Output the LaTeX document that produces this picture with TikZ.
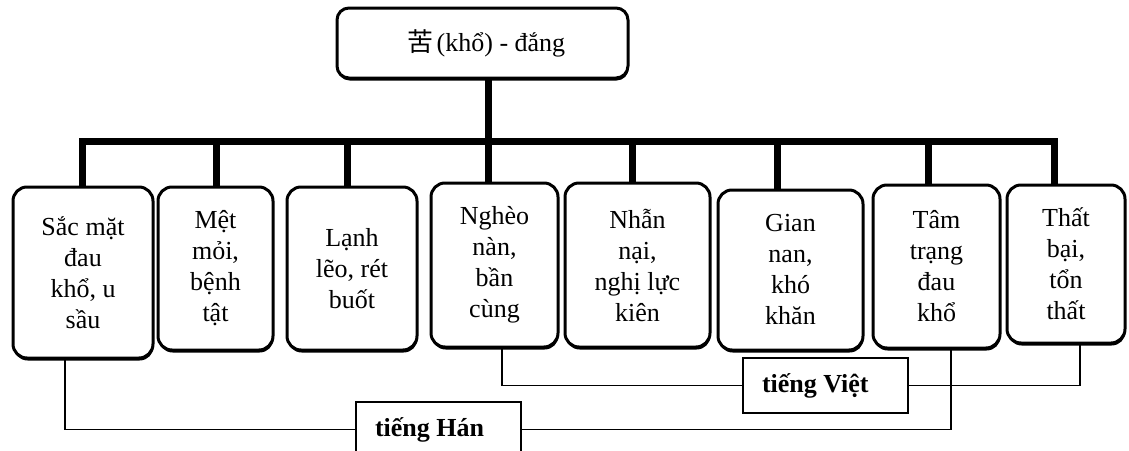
\documentclass[tikz,border=0pt]{standalone}
\usepackage{fontspec}
\setmainfont{Liberation Serif}
\newfontfamily\cjk{Noto Sans CJK SC}
\usetikzlibrary{calc,shadows,backgrounds}
\begin{document}
\begin{tikzpicture}[x=1pt,y=-1pt,
  box/.style={draw, line width=3pt, rounded corners=14pt, fill=white, align=center,
    inner sep=0pt, font=\fontsize{26}{31}\selectfont,
    drop shadow={shadow xshift=0.6pt, shadow yshift=-2.5pt, opacity=1, fill=black}},
  trunk/.style={line width=7pt, line join=miter},
  conn/.style={line width=1.5pt},
  lbox/.style={draw, line width=1.5pt, fill=white, font=\bfseries\fontsize{26}{30}\selectfont,
    minimum height=55pt, text width=127pt, inner xsep=19pt, inner ysep=0pt, align=flush left}]
\useasboundingbox (0,0) rectangle (1129,450);
\clip (0,0) rectangle (1129,450);

% boxes
\node[box, minimum width=291pt, minimum height=70pt, rounded corners=12pt] (top) at (482.5,43) {\hspace*{8pt}{\cjk 苦}\hspace{3pt}(khổ) - đắng};
\node[box, minimum width=140pt, minimum height=171pt] (b1) at (83,272.5) {Sắc mặt\\đau\\khổ, u\\sầu};
\node[box, minimum width=115pt, minimum height=163pt] (b2) at (215.5,268.5) {Mệt\\mỏi,\\bệnh\\tật};
\node[box, minimum width=130pt, minimum height=163pt] (b3) at (352,268.5) {Lạnh\\lẽo, rét\\buốt};
\node[box, minimum width=127pt, minimum height=164pt] (b4) at (494.5,265) {Nghèo\\nàn,\\bần\\cùng};
\node[box, minimum width=145pt, minimum height=164pt] (b5) at (637.5,265) {Nhẫn\\nại,\\nghị lực\\kiên};
\node[box, minimum width=145pt, minimum height=160pt] (b6) at (790.5,270) {Gian\\nan,\\khó\\khăn};
\node[box, minimum width=127pt, minimum height=163pt] (b7) at (936.5,266.5) {Tâm\\trạng\\đau\\khổ};
\node[box, minimum width=118pt, minimum height=158pt] (b8) at (1066,264) {Thất\\bại,\\tổn\\thất};

% tree connectors (behind the boxes)
\coordinate (bar) at (0,141);
\coordinate (ttop) at ($(top.south)+(5.5,0)$);
\foreach \n/\o in {b1/-1, b2/0.5, b3/-5, b4/-6.5, b5/-5.5, b6/-13.5, b7/-8.5, b8/-12}
  \coordinate (t\n) at ($(\n.north)+(\o,0)$);
\begin{scope}[on background layer]
\draw[trunk] (ttop) -- (ttop |- bar);
\draw[trunk] (tb1) -- (tb1 |- bar) -- (tb8 |- bar) -- (tb8);
\foreach \n in {b2,b3,b4,b5,b6,b7}
  \draw[trunk] (t\n |- bar) -- (t\n);
\end{scope}

% labels
\node[lbox] (lv) at (825.5,385.5) {tiếng Việt};
\node[lbox] (lh) at (438.5,429.5) {tiếng Hán};

% thin connectors
\draw[conn] ($(b4.south)+(7.5,0)$) |- (lv.west);
\draw[conn] (lv.east) -| ($(b8.south)+(14,0)$);
\draw[conn] ($(b1.south)+(-18,0)$) |- (lh.west);
\draw[conn] (lh.east) -| ($(b7.south)+(14.5,0)$);
\end{tikzpicture}
\end{document}
